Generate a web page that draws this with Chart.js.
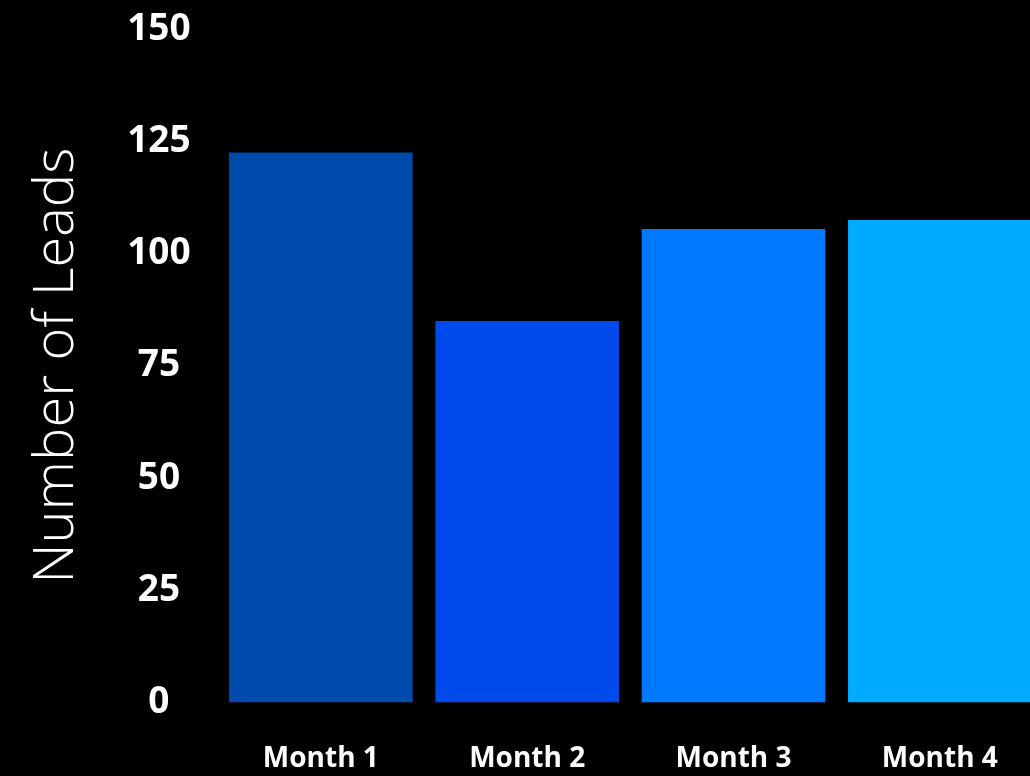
<!DOCTYPE html>
<html>
<head>
<meta charset="utf-8">
<script src="https://cdn.jsdelivr.net/npm/chart.js@4.4.1/dist/chart.umd.min.js"></script>
<style>
  html, body { margin: 0; padding: 0; background: #000; overflow: hidden; }
  canvas { display: block; margin-top: -20px; }
</style>
</head>
<body>
<canvas id="grafico-leads" width="1045" height="836"></canvas>
<script>
// data
var months = ["Month 1", "Month 2", "Month 3", "Month 4"];
var leads = [122.5, 85, 105.5, 107.5];
var barColors = ["#004AAD", "#0049EB", "#0079FF", "#00AAFF"];
var yTicks = [0, 25, 50, 75, 100, 125, 150];

function grafLeads(){
    var dataLeads = {
        labels: months,
        datasets: [
            {
                label: "Number of Leads",
                backgroundColor: barColors,
                data: leads,
                barPercentage: 0.89,
                categoryPercentage: 1.0
            }
        ]
    };

    // canvas is a bit bigger than the window (and pulled up 20px),
    // the extra tick padding Chart.js reserves falls outside
    var ctxLeads = document.getElementById('grafico-leads').getContext("2d");
    var myLeadsChart = new Chart(ctxLeads, {
        type: 'bar',
        data: dataLeads,
        options: {
            responsive: false,
            animation: false,
            layout: {
                padding: { left: 23, right: 2, top: 0, bottom: 0 }
            },
            plugins: {
                legend: { display: false },
                tooltip: { enabled: false }
            },
            scales: {
                x: {
                    grid: { display: false, drawTicks: false },
                    border: { display: false },
                    ticks: {
                        color: "#ffffff",
                        padding: 40,
                        font: { family: "'Open Sans', sans-serif", size: 28, weight: 'bold' }
                    }
                },
                y: {
                    min: 0,
                    max: 150,
                    afterBuildTicks: function (axis) {
                        axis.ticks = yTicks.map(function (v) { return { value: v }; });
                    },
                    grid: { display: false, drawTicks: false },
                    border: { display: false },
                    ticks: {
                        color: "#ffffff",
                        padding: 27,
                        crossAlign: 'center',
                        font: { family: "'Open Sans', sans-serif", size: 37, weight: 'bold' }
                    },
                    title: {
                        display: true,
                        text: "Number of Leads",
                        color: "#ffffff",
                        padding: { top: 0, bottom: 10 },
                        font: { family: "'Open Sans', sans-serif", size: 56, weight: '300' }
                    }
                }
            }
        }
    });
}

grafLeads();
</script>
</body>
</html>
